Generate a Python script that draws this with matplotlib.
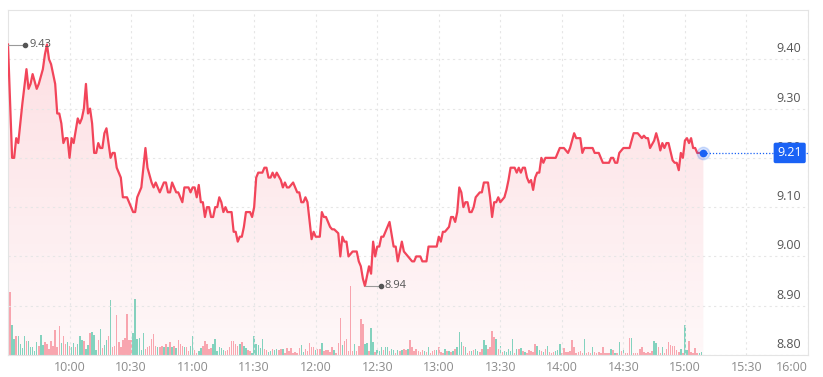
import numpy as np
import matplotlib.pyplot as plt
import matplotlib.transforms as mtransforms

plt.rcParams['font.family'] = ['Open Sans', 'DejaVu Sans']

# minutes after 09:30 and last price at that minute
price_minutes = [
    0, 2, 3, 4, 5, 6, 7, 9, 10, 11, 12, 14, 15, 17, 18, 19, 20, 21, 23, 24,
    25, 26, 27, 28, 29, 30, 31, 32, 34, 35, 36, 37, 38, 39, 40, 41, 42, 43, 44, 45,
    46, 47, 48, 49, 50, 51, 52, 53, 55, 56, 58, 60, 61, 62, 63, 65, 67, 68, 70, 71,
    72, 74, 76, 77, 78, 79, 80, 82, 83, 85, 86, 88, 89, 90, 91, 92, 93, 94, 95, 96,
    97, 98, 99, 100, 101, 102, 103, 104, 105, 106, 107, 109, 110, 111, 112, 113, 114, 115, 116, 118,
    119, 120, 121, 122, 124, 125, 126, 127, 128, 129, 130, 131, 133, 134, 135, 136, 137, 139, 140, 141,
    142, 143, 144, 145, 146, 148, 149, 150, 152, 153, 154, 155, 157, 158, 159, 161, 162, 163, 164, 165,
    166, 168, 170, 171, 172, 173, 174, 175, 176, 177, 178, 179, 180, 181, 182, 183, 186, 188, 189, 190,
    192, 193, 195, 197, 198, 199, 201, 202, 204, 205, 209, 210, 211, 212, 213, 215, 216, 217, 218, 219,
    220, 221, 222, 223, 224, 225, 226, 227, 228, 230, 231, 232, 234, 235, 236, 237, 238, 239, 240, 242,
    243, 244, 245, 247, 248, 249, 250, 251, 252, 253, 254, 255, 256, 257, 258, 259, 260, 261, 262, 267,
    269, 271, 273, 274, 276, 277, 279, 280, 281, 285, 286, 288, 290, 293, 294, 295, 296, 297, 298, 300,
    303, 305, 307, 309, 310, 311, 312, 313, 315, 316, 317, 318, 319, 320, 321, 322, 324, 325, 326, 327,
    328, 329, 330, 331, 332, 333, 334, 335, 336, 337, 339,
]
prices = [
    9.43, 9.20, 9.20, 9.24, 9.23, 9.27, 9.31, 9.38, 9.34, 9.35, 9.37, 9.34, 9.35, 9.38, 9.41, 9.43, 9.40, 9.39, 9.35, 9.29,
    9.29, 9.27, 9.23, 9.24, 9.24, 9.20, 9.24, 9.23, 9.28, 9.27, 9.28, 9.30, 9.35, 9.29, 9.30, 9.27, 9.21, 9.21, 9.23, 9.22,
    9.22, 9.25, 9.26, 9.23, 9.20, 9.21, 9.21, 9.18, 9.16, 9.12, 9.12, 9.10, 9.09, 9.09, 9.12, 9.14, 9.22, 9.18, 9.15, 9.14,
    9.15, 9.13, 9.15, 9.15, 9.13, 9.13, 9.15, 9.13, 9.13, 9.11, 9.14, 9.14, 9.13, 9.14, 9.14, 9.12, 9.145, 9.11, 9.11, 9.08,
    9.10, 9.10, 9.08, 9.08, 9.10, 9.10, 9.12, 9.11, 9.09, 9.10, 9.09, 9.09, 9.05, 9.05, 9.03, 9.04, 9.04, 9.06, 9.09, 9.09,
    9.08, 9.10, 9.16, 9.17, 9.17, 9.18, 9.18, 9.16, 9.16, 9.17, 9.16, 9.17, 9.155, 9.14, 9.15, 9.14, 9.14, 9.15, 9.14, 9.13,
    9.13, 9.11, 9.11, 9.12, 9.11, 9.035, 9.05, 9.04, 9.04, 9.09, 9.08, 9.08, 9.06, 9.055, 9.055, 9.047, 9.00, 9.04, 9.03, 9.03,
    9.00, 9.01, 9.01, 8.99, 8.98, 8.955, 8.94, 8.96, 8.98, 8.965, 9.03, 9.00, 9.02, 9.02, 9.04, 9.04, 9.07, 9.02, 9.02, 8.99,
    9.03, 9.01, 9.00, 8.99, 8.99, 9.00, 9.00, 8.99, 8.99, 9.02, 9.02, 9.04, 9.03, 9.05, 9.05, 9.06, 9.08, 9.08, 9.07, 9.09,
    9.14, 9.13, 9.10, 9.11, 9.11, 9.09, 9.09, 9.10, 9.12, 9.13, 9.13, 9.15, 9.15, 9.12, 9.08, 9.11, 9.11, 9.12, 9.11, 9.12,
    9.135, 9.155, 9.18, 9.18, 9.17, 9.18, 9.17, 9.18, 9.18, 9.16, 9.15, 9.155, 9.135, 9.16, 9.17, 9.17, 9.20, 9.19, 9.20, 9.20,
    9.22, 9.22, 9.21, 9.22, 9.25, 9.24, 9.24, 9.21, 9.22, 9.22, 9.21, 9.21, 9.19, 9.19, 9.20, 9.20, 9.19, 9.19, 9.21, 9.22,
    9.22, 9.25, 9.25, 9.24, 9.245, 9.24, 9.24, 9.22, 9.235, 9.25, 9.235, 9.215, 9.23, 9.22, 9.23, 9.23, 9.195, 9.19, 9.19, 9.175,
    9.21, 9.20, 9.235, 9.24, 9.23, 9.24, 9.22, 9.22, 9.21, 9.21, 9.21,
]

# per-minute volume (thousand shares), one bar per minute from 09:30
volume = [
    61, 63, 30, 16, 19, 19, 11, 7, 19, 14, 14, 8, 8, 4, 13, 9, 20, 10, 13, 11,
    6, 14, 9, 25, 8, 29, 12, 19, 11, 13, 9, 8, 12, 8, 11, 19, 15, 14, 6, 10,
    22, 23, 20, 5, 15, 26, 7, 10, 15, 19, 55, 8, 9, 40, 13, 8, 15, 17, 41, 15,
    15, 22, 56, 16, 17, 5, 22, 6, 8, 9, 16, 21, 9, 8, 8, 9, 8, 11, 8, 13,
    8, 9, 7, 15, 11, 9, 8, 8, 4, 9, 19, 5, 2, 4, 7, 9, 14, 11, 6, 7,
    11, 16, 4, 8, 7, 5, 4, 5, 8, 14, 14, 11, 9, 11, 13, 9, 7, 5, 4, 2,
    19, 11, 10, 7, 16, 6, 5, 3, 4, 6, 5, 6,
    5, 6, 6, 2, 7, 4, 7, 2, 3, 2, 7, 10, 3, 6, 4, 12, 8, 8, 5, 6,
    6, 12, 4, 5, 5, 3, 8, 5, 2, 12, 37, 10, 14, 16, 4, 69, 4, 11, 4, 9,
    36, 31, 11, 12, 4, 27, 13, 3, 5, 4, 8, 5, 8, 8, 4, 6, 5, 2, 5, 4,
    5, 6, 5, 6, 15, 8, 4, 6, 4, 3, 5, 4, 3, 8, 2, 4, 5, 5, 8, 3,
    2, 6, 4, 4, 3, 4, 6, 8, 23, 13, 9, 8, 2, 4, 4, 5, 6, 4, 3, 6,
    15, 10, 6, 8, 24, 18, 16, 6, 9, 3, 4, 3, 6, 4, 16, 2, 6, 6, 7, 4,
    3, 2, 5, 4, 3, 11, 9, 5, 4, 3, 6, 9, 3, 2, 3, 4, 5, 11,
    2, 7, 3, 3, 4, 15, 8, 2, 3, 4, 2, 16, 2, 3, 2, 8, 3, 2, 3, 2,
    8, 2, 2, 2, 6, 5, 2, 2, 13, 4, 5, 2, 2, 17, 17, 2, 2, 2, 6, 8,
    3, 2, 3, 2, 4, 14, 12, 8, 2, 8, 2, 6, 13, 10, 9, 9, 5, 3, 6, 2,
    30, 5, 14, 3, 2, 7, 2, 2, 3,
]
# bar direction for each minute: u = up (teal), d = down (pink)
vol_dir = "".join([
    # 09:30 - 11:41
    "dduuduuuud", "uuuuuduudd", "dddddduddu", "duuduuuduu", "duuududuud",
    "uddddddddd", "duuuuuuddd", "ddduddudud", "ududdduddu", "udduuddddd",
    "uuuuuudddd", "ddduduuddu", "uuuuudduud", "uu",
    # 11:42 - 13:59
    "dduddddddd", "duudddddud", "dudddddudd", "dudddddudd", "dduuduuduu",
    "uduuduudud", "uddudddddd", "dududddudd", "dudududuu", "ududduduud",
    "duuddddudu", "duuuuududu", "duddddduud", "ududdduuu",
    # 14:00 - 15:08
    "dddddddddd", "dudddudddd", "ddddududud", "uddduddddd", "ddddduuddu",
    "ddddddddud", "uuddddduu",
])

x_ticks = [30, 60, 90, 120, 150, 180, 210, 240, 270, 300, 330, 360, 390]
x_labels = ['10:00', '10:30', '11:00', '11:30', '12:00', '12:30', '13:00',
            '13:30', '14:00', '14:30', '15:00', '15:30', '16:00']
y_ticks = [8.80, 8.90, 9.00, 9.10, 9.20, 9.30, 9.40]
last_price = 9.21
high_label, low_label = 9.43, 8.94

line_color = '#f2455a'
blue = '#1a62f5'

W, H = 823, 377
fig = plt.figure(figsize=(W / 100, H / 100), dpi=100)
fig.patch.set_facecolor('white')
ax = fig.add_axes([8 / W, 22 / H, 800 / W, 345 / H])
ax2 = ax.twinx()
ax.set_zorder(ax2.get_zorder() + 1)
ax.patch.set_visible(False)
ax2.patch.set_visible(False)

ax.set_xlim(0, 390)
ax.set_ylim(8.80, 9.50)

# volume bars on their own scale
n = len(volume)
dirs = (vol_dir + 'd' * n)[:n]
bar_colors = ['#7fd9c3' if d == 'u' else '#f9aab3' for d in dirs]
ax2.bar(np.arange(n), volume, width=0.72, color=bar_colors, linewidth=0)
ax2.set_ylim(0, 345)
ax2.set_yticks([])
for s in ax2.spines.values():
    s.set_visible(False)

# gradient fill under the price line
poly = ax.fill_between(price_minutes, prices, 8.80, facecolor='none', edgecolor='none')
grad = np.zeros((200, 2, 4))
grad[:, :, :3] = np.array([242, 69, 90]) / 255
grad[:, :, 3] = np.linspace(0.17, 0.04, 200)[:, None]
im = ax.imshow(grad, extent=[0, max(price_minutes), 8.80, max(prices)],
               aspect='auto', origin='upper', zorder=1, interpolation='bilinear')
im.set_clip_path(poly.get_paths()[0], transform=ax.transData)

ax.plot(price_minutes, prices, color=line_color, lw=1.6, zorder=3,
        solid_joinstyle='round')

# grid
ax.set_xticks(x_ticks)
ax.set_xticklabels(x_labels)
ax.set_yticks(y_ticks)
ax.set_yticklabels([])
ax.grid(True, color='#e6e6e6', lw=0.8, linestyle=(0, (2, 3)))
ax.tick_params(axis='both', length=0)
ax.tick_params(axis='x', pad=4, labelsize=9, labelcolor='#8c8c8c')
ax.get_xticklabels()[-1].set_ha('right')
for s in ax.spines.values():
    s.set_color('#e4e4e4')
    s.set_linewidth(0.8)

# price labels inside the plot, right side
ytrans = mtransforms.offset_copy(ax.get_yaxis_transform(), fig=fig, y=4, units='dots')
for v in y_ticks:
    ax.text(1 - 7 / 800, v, f'{v:.2f}', transform=ytrans, ha='right', va='bottom',
            fontsize=9, color='#555555', zorder=4)


def px(dx):
    x0 = ax.transData.transform((0, 0))[0]
    return ax.transData.inverted().transform((x0 + dx, 0))[0]


# high / low markers
hi_t = price_minutes[prices.index(high_label)]
lo_t = price_minutes[prices.index(low_label)]
for t, v, gap in [(hi_t, high_label, 17), (lo_t, low_label, 16)]:
    ax.plot([t, t + px(gap)], [v, v], color='#9a9a9a', lw=0.8, zorder=5)
    ax.plot([t + px(gap)], [v], 'o', color='#555555', ms=3, zorder=5)
    ax.text(t + px(gap + 4), v, f'{v:.2f}', fontsize=8, color='#555555',
            va='center', ha='left', zorder=5)

# last price marker and badge
t_last = price_minutes[-1]
ax.plot([t_last, 390], [last_price, last_price], color=blue, lw=0.9,
        linestyle=(0, (1, 1.5)), zorder=5)
ax.plot([t_last], [last_price], 'o', color=blue, ms=9, alpha=0.18, zorder=5)
ax.plot([t_last], [last_price], 'o', color=blue, ms=4.5, zorder=6)
ax.text(1 - 6 / 800, last_price, f'{last_price:.2f}', transform=ax.get_yaxis_transform(),
        ha='right', va='center', fontsize=9, color='white', zorder=7,
        bbox=dict(boxstyle='round,pad=0.3,rounding_size=0.15', fc=blue, ec='none'))

fig.savefig('out.png', dpi=100)
